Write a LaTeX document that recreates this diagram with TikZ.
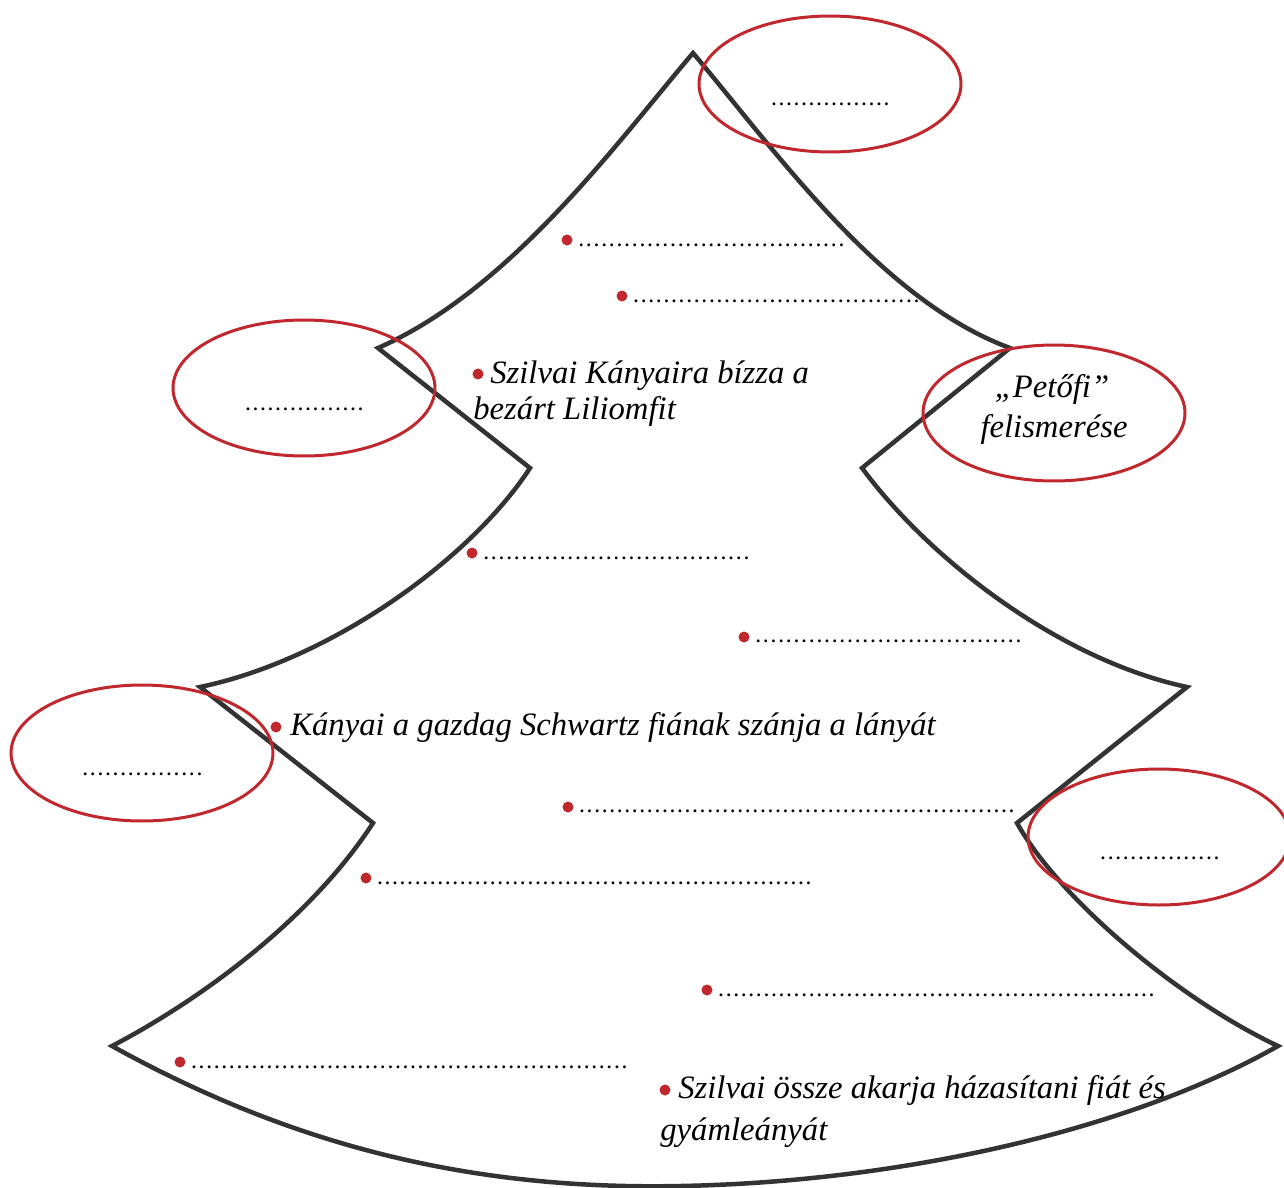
\documentclass[tikz,border=0pt]{standalone}
\usepackage{fontspec}
\setmainfont{Liberation Serif}
\usetikzlibrary{shapes.geometric}
\definecolor{piros}{HTML}{C0282D}
\definecolor{sotet}{HTML}{333333}
% one pixel of the picture
\newdimen\egyseg \egyseg=0.02cm
\newcommand{\pontok}[1]{\hbox to #1\egyseg{\fontsize{10}{10}\selectfont\bfseries\xleaders\hbox to 7.5\egyseg{\hss.\hss}\hfill}}
\begin{document}
\begin{tikzpicture}[x=0.02cm,y=-0.02cm,
  fa/.style={line width=0.09cm, draw=sotet, line join=miter},
  kor/.style={ellipse, draw=piros, line width=0.06cm, minimum width=5.24cm, minimum height=2.72cm, inner sep=0pt},
  pont/.style={circle, fill=piros, inner sep=0pt, minimum size=0.22cm},
  sor/.style={anchor=base west, inner sep=0pt},
  szoveg/.style={anchor=base west, inner sep=0pt, font=\fontsize{18.6}{21}\selectfont\itshape}]
  % helper grid: comment for final drawing
  % \draw[help lines,step=50] (0,0) grid (1284,1187);
  \clip (0,0) rectangle (1284,1187);
  \fill[white] (0,0) rectangle (1284,1187);
  % the tree
  \draw[fa] (693,53)
    .. controls (615,145) and (510,290) .. (378,348)
    -- (530,468)
    .. controls (470,560) and (330,660) .. (200,687)
    -- (373,823)
    .. controls (310,920) and (200,1000) .. (112,1046)
    .. controls (300,1150) and (480,1190) .. (680,1186)
    .. controls (900,1182) and (1130,1130) .. (1278,1046)
    .. controls (1180,1000) and (1060,900) .. (1017,823)
    -- (1187,687)
    .. controls (1060,660) and (930,560) .. (862,468)
    -- (1010,348)
    .. controls (880,300) and (775,150) .. (693,53) -- cycle;
  % red ellipses
  \node[kor] (k1) at (830,84) {};
  \node[kor] (k2) at (304,388) {};
  \node[kor] (k3) at (1054,413) {};
  \node[kor] (k4) at (142,753) {};
  \node[kor] (k5) at (1159,837) {};
  \node[sor] (kp1) at (770,105) {\pontok{120}};
  \node[sor] (kp2) at (244,410) {\pontok{120}};
  \node[sor] (kp4) at (81,775) {\pontok{122}};
  \node[sor] (kp5) at (1099,859) {\pontok{121}};
  \node[szoveg, anchor=base] (pet) at (1052,397) {„Petőfi”};
  \node[szoveg, anchor=base] (fel) at (1054,437) {felismerése};
  % bullets with dotted lines
  \node[pont] (p1) at (567,240) {};
  \node[sor] (s1) at (577,246) {\pontok{268}};
  \node[pont] (p2) at (622,296) {};
  \node[sor] (s2) at (632,302) {\pontok{288}};
  \node[pont] (p4) at (472,553) {};
  \node[sor] (s4) at (482,559) {\pontok{268}};
  \node[pont] (p5) at (744,637) {};
  \node[sor] (s5) at (754,642) {\pontok{268}};
  \node[pont] (p7) at (568,807) {};
  \node[sor] (s7) at (578,812) {\pontok{437}};
  \node[pont] (p8) at (366,878) {};
  \node[sor] (s8) at (376,884) {\pontok{436}};
  \node[pont] (p9) at (707,990) {};
  \node[sor] (s9) at (717,996) {\pontok{438}};
  \node[pont] (p10) at (180,1062) {};
  \node[sor] (s10) at (190,1068) {\pontok{438}};
  % bullets with text
  \node[pont] (p3) at (478,374) {};
  \node[szoveg] (t3a) at (490,383) {Szilvai Kányaira bízza a};
  \node[szoveg] (t3b) at (473,419) {bezárt Liliomfit};
  \node[pont] (p6) at (276,727) {};
  \node[szoveg] (t6) at (290,735) {Kányai a gazdag Schwartz fiának szánja a lányát};
  \node[pont] (p11) at (665,1090) {};
  \node[szoveg] (t11a) at (678,1098) {Szilvai össze akarja házasítani fiát és};
  \node[szoveg] (t11b) at (660,1140) {gyámleányát};
\end{tikzpicture}
\end{document}
